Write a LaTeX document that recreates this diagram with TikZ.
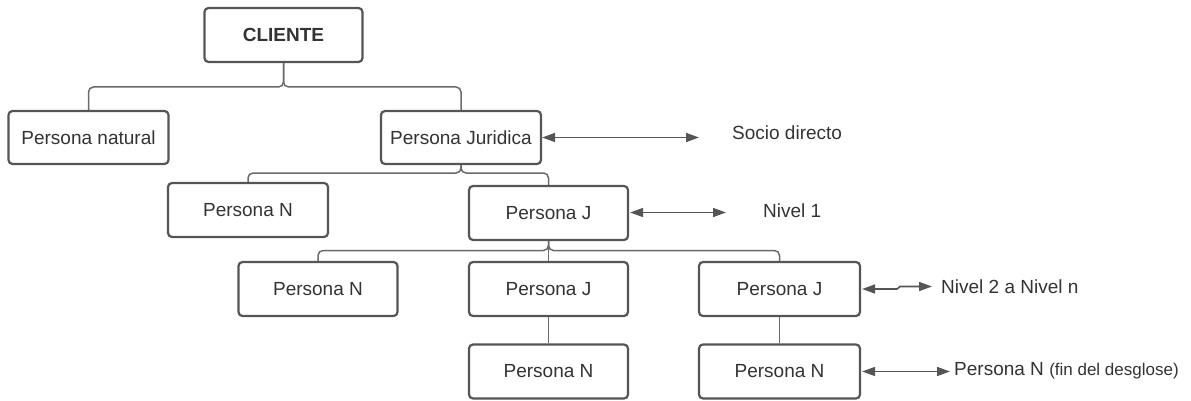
\documentclass[tikz,border=0pt]{standalone}
\usepackage{fontspec}
\setmainfont{Liberation Sans}
\usetikzlibrary{arrows.meta}
\definecolor{boxline}{HTML}{555555}
\definecolor{conline}{HTML}{6A6A6A}
\definecolor{txt}{HTML}{333333}
\begin{document}
\begin{tikzpicture}[x=1pt,y=-1pt,
  box/.style={draw=boxline,line width=2.2pt,rounded corners=4pt,fill=white,
    text=txt,font=\fontsize{19}{22}\selectfont,inner sep=0pt,
    minimum width=160pt,minimum height=53pt},
  conn/.style={draw=conline,line width=1.5pt,rounded corners=5pt},
  biarrow/.style={draw=boxline,line width=1.6pt,
    {Triangle[length=13pt,width=9pt]}-{Triangle[length=13pt,width=9pt]}},
  lbl/.style={anchor=west,text=txt,font=\fontsize{19}{22}\selectfont,inner sep=0pt}]
\useasboundingbox (0,0) rectangle (1191,401);
% connectors first (behind boxes)
\coordinate (b0) at (283.5,87);
\coordinate (b1) at (461,173);
\coordinate (b2) at (548.5,250.5);
% nodes
\node[box,minimum width=158pt,minimum height=54pt,font=\fontsize{19}{22}\selectfont\bfseries] (cli) at (283.5,35) {CLIENTE};
\node[box] (pnat) at (88.5,137.5) {Persona natural};
\node[box] (pjur) at (461,137.5) {Persona Juridica};
\node[box,minimum height=54pt] (pn1) at (248,210) {Persona N};
\node[box,minimum height=54pt,minimum width=159pt] (pj1) at (548.5,213) {Persona J};
\node[box,minimum height=54pt,minimum width=159pt] (pn2) at (318,289) {Persona N};
\node[box,minimum height=54pt,minimum width=159pt] (pj2) at (548.5,289) {Persona J};
\node[box,minimum height=54pt,minimum width=161pt] (pj3) at (779.5,289) {Persona J};
\node[box,minimum height=54pt,minimum width=159pt] (pn3) at (548.5,371.5) {Persona N};
\node[box,minimum height=54pt,minimum width=161pt] (pn4) at (779.5,371.5) {Persona N};
% tree connectors
\draw[conn] (cli.south) -- (b0) -| (pnat.north);
\draw[conn] (cli.south) -- (b0) -| (pjur.north);
\draw[conn] (pjur.south) -- (b1) -| (pn1.north);
\draw[conn] (pjur.south) -- (b1) -| (pj1.north);
\draw[conn] (pj1.south) -- (b2) -| (pn2.north);
\draw[conn] (pj1.south) -- (b2) -| (pj2.north);
\draw[conn] (pj1.south) -- (b2) -| (pj3.north);
\draw[conn] (pj2.south) -- (pn3.north);
\draw[conn] (pj3.south) -- (pn4.north);
% labels
\node[lbl] (socio) at (732,133) {Socio directo};
\node[lbl] (niv1) at (763,211) {Nivel 1};
\node[lbl] (niv2) at (941,286.5) {Nivel 2 a Nivel n};
\node[lbl] (fin) at (954,371) {Persona N {\fontsize{17}{20}\selectfont(fin del desglose)}};
% side arrows
\coordinate (a1) at (699,137.5);
\coordinate (a2) at (726,212.5);
\coordinate (a3m) at (897,289);
\coordinate (a3n) at (900,286.5);
\coordinate (a3) at (932,286.5);
\coordinate (a4) at (950,371.5);
\draw[biarrow] (pjur.east) -- (a1);
\draw[biarrow] ([xshift=1pt]pj1.east |- a2) -- (a2);
\draw[biarrow] ([xshift=1pt]pj3.east) -- (a3m) -- (a3n) -- (a3);
\draw[biarrow] ([xshift=1pt]pn4.east) -- (a4);
\end{tikzpicture}
\end{document}
